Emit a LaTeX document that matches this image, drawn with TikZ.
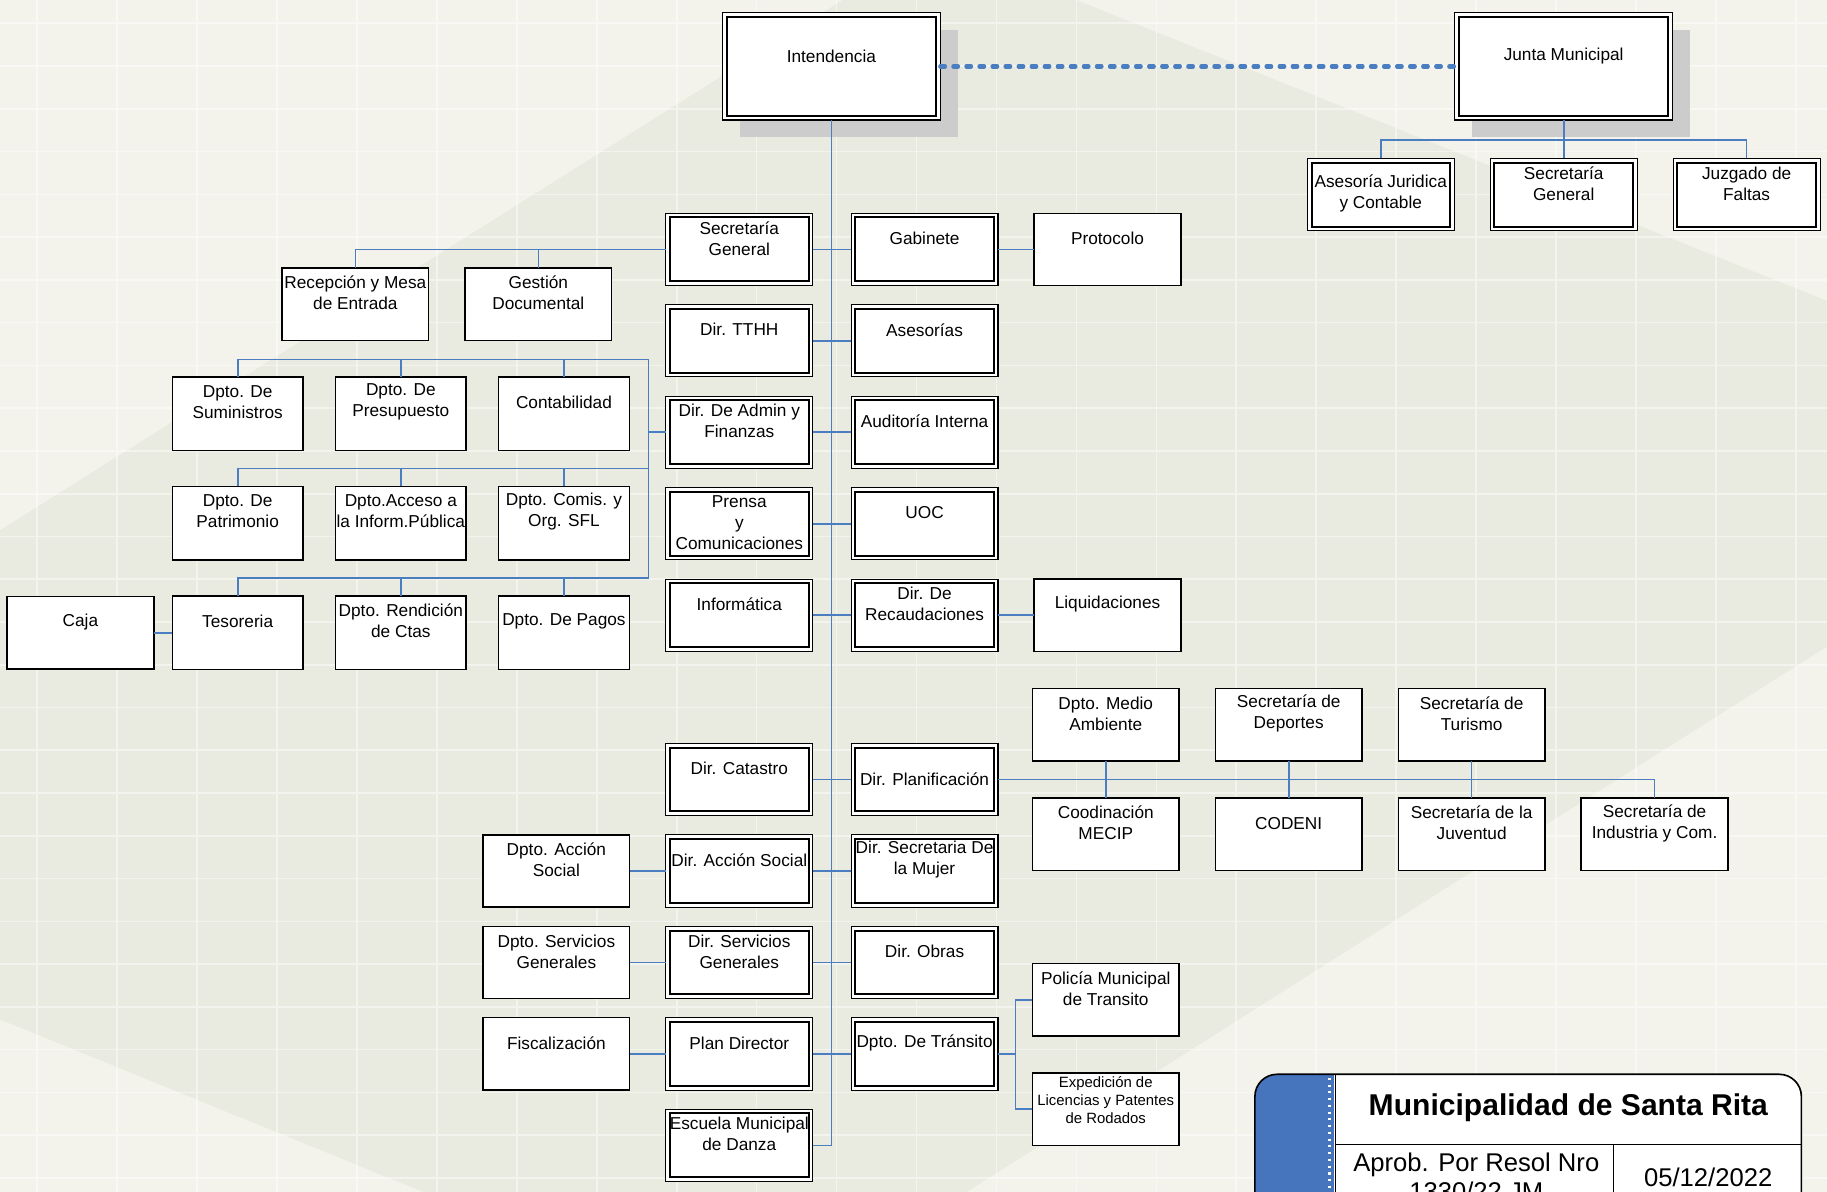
\documentclass[tikz,border=0pt]{standalone}
\usepackage{fontspec}
\setmainfont{Liberation Sans}
\usepackage{tikz}
\usetikzlibrary{positioning, shadows, calc}
\definecolor{bgDark}{RGB}{234,235,224}
\definecolor{bgLight}{RGB}{243,243,236}
\definecolor{linkBlue}{RGB}{74,126,193}
\definecolor{titleBlue}{RGB}{70,117,190}
\definecolor{shadowGray}{RGB}{204,204,204}
\newcommand{\orgfont}{\fontsize{7.4}{9}\selectfont}
\newcommand{\orgsmall}{\fontsize{6.4}{7.75}\selectfont}
\tikzset{
    obox/.style={
        draw,
        fill=white,
        line width=0.6pt,
        minimum width=63pt,
        minimum height=31pt,
        inner sep=0pt,
        outer sep=0pt
    },
    dbox/.style={
        obox,
        line width=0.45pt,
        path picture={\draw[line width=0.85pt] ([shift={(1.8pt,-1.8pt)}]path picture bounding box.north west) rectangle ([shift={(-1.8pt,1.8pt)}]path picture bounding box.south east);}
    },
    sbox/.style={obox, minimum width=56pt, minimum height=31.5pt},
    ltxt/.style 2 args={label={[anchor=center, align=center, inner sep=0pt, font=\orgfont, label distance=-#1]north:#2}},
    txt/.style={ltxt={10.75pt}{#1}},
    stxt/.style={label={[anchor=center, align=center, inner sep=0pt, font=\orgsmall, label distance=-11.5pt]north:#1}},
    link/.style={draw=linkBlue, line width=0.7pt},
    dlink/.style={draw=linkBlue, line width=1.8pt, line cap=round, dash pattern=on 2pt off 3.6pt},
    shadowed/.style={drop shadow={shadow xshift=7.5pt, shadow yshift=-7.5pt, fill=shadowGray, opacity=1}},
    bggrid/.style={white, opacity=0.45, line width=0.7pt}
}

\begin{document}
\begin{tikzpicture}[x=0.5pt, y=-0.5pt]
    \useasboundingbox (0,0) rectangle (1568,1023);
    \clip (0,0) rectangle (1568,1023);

    % Fondo
    \fill[bgDark] (0,0) rectangle (1568,1023);
    \fill[bgLight] (0,0) -- (723,0) -- (0,455) -- cycle;
    \fill[bgLight] (924,0) -- (1568,0) -- (1568,258) -- cycle;
    \fill[bgLight] (1568,555) -- (1568,1023) -- (830,1023) -- cycle;
    \fill[bgLight] (0,875) -- (363,1023) -- (0,1023) -- cycle;
    \begin{scope}[shift={(16pt,-10pt)}]
        \draw[bggrid, xstep=34.3pt, ystep=18.35pt] (-20pt,-530pt) grid (800pt,20pt);
    \end{scope}

    % Nivel superior
    \node[dbox, shadowed, minimum width=93.5pt, minimum height=46pt, ltxt={18.5pt}{Intendencia}] (int) at (713.5,57) {};
    \node[dbox, shadowed, minimum width=93.5pt, minimum height=46pt, ltxt={18.5pt}{Junta Municipal}] (junta) at (1342,57) {};
    \node[dbox, txt={Secretaría\\General}, below=16.5pt of junta] (jsg) {};
    \node[dbox, ltxt={15pt}{Asesoría Juridica\\y Contable}, left=15.5pt of jsg] (jase) {};
    \node[dbox, txt={Juzgado de\\Faltas}, right=15.5pt of jsg] (jjuz) {};

    % Columna central
    \node[dbox, txt={Secretaría\\General}] (sg) at (634.5,214) {};
    \node[dbox, txt={Gabinete}, right=16.5pt of sg] (gab) {};
    \node[obox, txt={Protocolo}, right=15.5pt of gab] (proto) {};
    \node[dbox, txt={Dir. TTHH}, below=8.25pt of sg] (tthh) {};
    \node[dbox, txt={Asesorías}, right=16.5pt of tthh] (ase) {};
    \node[dbox, txt={Dir. De Admin y\\Finanzas}, below=8.25pt of tthh] (adm) {};
    \node[dbox, txt={Auditoría Interna}, right=16.5pt of adm] (aud) {};
    \node[dbox, ltxt={15pt}{Prensa\\y\\Comunicaciones}, below=8.25pt of adm] (pren) {};
    \node[dbox, txt={UOC}, right=16.5pt of pren] (uoc) {};
    \node[dbox, txt={Informática}, below=8.25pt of pren] (inf) {};
    \node[dbox, txt={Dir. De\\Recaudaciones}, right=16.5pt of inf] (rdc) {};
    \node[obox, txt={Liquidaciones}, right=15.5pt of rdc] (liq) {};
    \node[dbox, txt={Dir. Catastro}, below=39.5pt of inf] (cat) {};
    \node[dbox, ltxt={15.5pt}{Dir. Planificación}, right=16.5pt of cat] (plan) {};
    \node[dbox, txt={Dir. Acción Social}, below=8.25pt of cat] (acc) {};
    \node[dbox, txt={Dir. Secretaria De\\la Mujer}, right=16.5pt of acc] (mujer) {};
    \node[dbox, txt={Dir. Servicios\\Generales}, below=8.25pt of acc] (dsg) {};
    \node[dbox, txt={Dir. Obras}, right=16.5pt of dsg] (obr) {};
    \node[dbox, txt={Plan Director}, below=8.25pt of dsg] (pdir) {};
    \node[dbox, txt={Dpto. De Tránsito}, right=16.5pt of pdir] (tran) {};
    \node[dbox, txt={Escuela Municipal\\de Danza}, below=8.25pt of pdir] (esc) {};

    % Secretaria General
    \node[obox, txt={Recepción y Mesa\\de Entrada}] (rec) at (305,261) {};
    \node[obox, txt={Gestión\\Documental}, right=15.5pt of rec] (ges) {};

    % Admin y Finanzas
    \node[sbox, txt={Dpto. De\\Suministros}] (sum) at (204,355) {};
    \node[sbox, txt={Dpto. De\\Presupuesto}, right=14pt of sum] (pre) {};
    \node[sbox, txt={Contabilidad}, right=14pt of pre] (con) {};
    \node[sbox, txt={Dpto. De\\Patrimonio}, below=15.5pt of sum] (pat) {};
    \node[sbox, txt={Dpto.Acceso a\\la Inform.Pública}, right=14pt of pat] (acp) {};
    \node[sbox, txt={Dpto. Comis. y\\Org. SFL}, right=14pt of acp] (com) {};
    \node[sbox, txt={Tesoreria}, below=15.5pt of pat] (teso) {};
    \node[sbox, txt={Dpto. Rendición\\de Ctas}, right=14pt of teso] (ren) {};
    \node[sbox, txt={Dpto. De Pagos}, right=14pt of ren] (pag) {};
    \node[obox, txt={Caja}, left=8pt of teso] (caja) {};

    % Izquierda, parte baja
    \node[obox, txt={Dpto. Acción\\Social}, left=15.5pt of acc] (dacc) {};
    \node[obox, txt={Dpto. Servicios\\Generales}, left=15.5pt of dsg] (dsgd) {};
    \node[obox, txt={Fiscalización}, left=15.5pt of pdir] (fis) {};

    % Planificacion
    \node[obox, txt={Dpto. Medio\\Ambiente}] (mam) at (949,622) {};
    \node[obox, txt={Secretaría de\\Deportes}, right=15.5pt of mam] (dep) {};
    \node[obox, txt={Secretaría de\\Turismo}, right=15.5pt of dep] (tur) {};
    \node[obox, txt={Coodinación\\MECIP}, below=16pt of mam] (mecip) {};
    \node[obox, txt={CODENI}, right=15.5pt of mecip] (cod) {};
    \node[obox, txt={Secretaría de la\\Juventud}, right=15.5pt of cod] (juv) {};
    \node[obox, txt={Secretaría de\\Industria y Com.}, right=15.5pt of juv] (ind) {};

    % Transito
    \node[obox, txt={Policía Municipal\\de Transito}] (pol) at (949,858) {};
    \node[obox, stxt={Expedición de\\Licencias y Patentes\\de Rodados}, below=16pt of pol] (exp) {};

    % Conexiones
    \draw[dlink] (int.east) -- (junta.west);
    \draw[link] (junta.south) -- (jsg.north);
    \draw[link] (jase.north) -- ++(0,-16) -| (jjuz.north);
    \draw[link] (int.south) |- (esc.east);
    \draw[link] (sg) -- (gab);
    \draw[link] (tthh) -- (ase);
    \draw[link] (adm) -- (aud);
    \draw[link] (pren) -- (uoc);
    \draw[link] (inf) -- (rdc);
    \draw[link] (cat) -- (plan);
    \draw[link] (acc) -- (mujer);
    \draw[link] (dsg) -- (obr);
    \draw[link] (pdir) -- (tran);
    \draw[link] (gab) -- (proto);
    \draw[link] (rdc) -- (liq);
    \draw[link] (dacc) -- (acc);
    \draw[link] (dsgd) -- (dsg);
    \draw[link] (fis) -- (pdir);
    \draw[link] (sg.west) -| (rec.north);
    \draw[link] (ges.north) -- (ges.north |- sg.west);

    \coordinate (abus) at ([xshift=-7.5pt]adm.west);
    \draw[link] (adm.west) -- (abus);
    \draw[link] (sum.north) -- ++(0,-15) -| (abus);
    \draw[link] (pat.north) -- ++(0,-15.5) -| (abus);
    \draw[link] (teso.north) -- ++(0,-15.5) -| (abus);
    \draw[link] (pre.north) -- ++(0,-15);
    \draw[link] (con.north) -- ++(0,-15);
    \draw[link] (acp.north) -- ++(0,-15.5);
    \draw[link] (com.north) -- ++(0,-15.5);
    \draw[link] (ren.north) -- ++(0,-15.5);
    \draw[link] (pag.north) -- ++(0,-15.5);
    \draw[link] (caja) -- (teso);

    \draw[link] (plan.east) -| (ind.north);
    \draw[link] (mam) -- (mecip);
    \draw[link] (dep) -- (cod);
    \draw[link] (tur) -- (juv);

    \coordinate (tbus) at ([xshift=7.5pt]tran.east);
    \draw[link] (tran.east) -- (tbus);
    \draw[link] (pol.west) -| (tbus) |- (exp.west);

    % Rotulo
    \begin{scope}
        \clip[rounded corners=9.5pt] (1077,922) rectangle (1546,1070);
        \fill[white] (1077,922) rectangle (1546,1070);
        \fill[titleBlue] (1077,922) rectangle (1145,1070);
    \end{scope}
    \draw[white, dotted, line width=0.9pt] (1141,925) -- (1141,1023);
    \draw[line width=0.6pt] (1146,922) -- (1146,1070) (1146,982) -- (1546,982) (1385,982) -- (1385,1070);
    \draw[line width=0.7pt, rounded corners=9.5pt] (1077,922) rectangle (1546,1070);
    \node[font=\fontsize{12.9}{15}\selectfont\bfseries] (tname) at (1346,951) {Municipalidad de Santa Rita};
    \node[align=center, font=\fontsize{11}{12.5}\selectfont] (tres) at (1267,1010) {Aprob. Por Resol Nro\\1330/22 JM};
    \node[font=\fontsize{11}{12.5}\selectfont] (tdate) at (1466,1010) {05/12/2022};
\end{tikzpicture}
\end{document}
